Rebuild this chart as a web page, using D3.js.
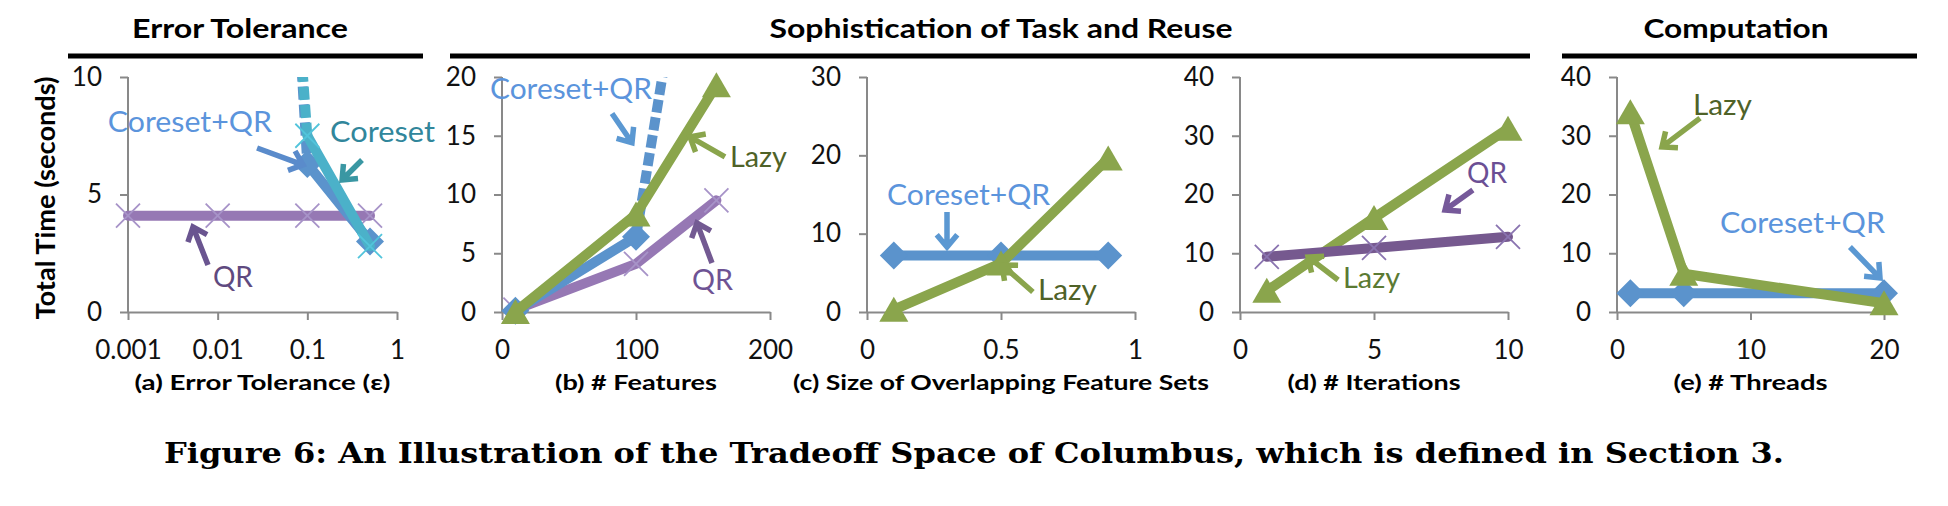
<!DOCTYPE html>
<html><head><meta charset="utf-8">
<script src="https://cdn.jsdelivr.net/npm/d3@7"></script>
<style>body{margin:0;background:#fff;} svg{display:block}</style>
</head><body><svg id="c" width="1948" height="506"></svg>
<script>
// ================= DATA =================
const headerTitles = ["Error Tolerance", "Sophistication of Task and Reuse", "Computation"];
const yAxisTitle = "Total Time (seconds)";
const captionText = "Figure 6: An Illustration of the Tradeoff Space of Columbus, which is defined in Section 3.";

// (a) Error tolerance (log x)
const aTitle = "(a) Error Tolerance (ε)";
const aXTicks = [0.001, 0.01, 0.1, 1];
const aXTickLabels = ["0.001", "0.01", "0.1", "1"];
const aYTicks = [0, 5, 10];
const aQR_x = [0.001, 0.01, 0.1, 0.5];
const aQR_y = [4.1, 4.1, 4.1, 4.1];
const aCoresetQR_x = [0.01, 0.1, 0.5];
const aCoresetQR_y = [70, 6.3, 3.0];
const aCoreset_x = [0.01, 0.1, 0.5];
const aCoreset_y = [60, 7.5, 2.8];

// (b) # Features
const bTitle = "(b) # Features";
const bXTicks = [0, 100, 200];
const bXTickLabels = ["0", "100", "200"];
const bYTicks = [0, 5, 10, 15, 20];
const b_x = [10, 100, 160];
const bQR_y = [0.2, 4.1, 9.5];
const bCoresetQR_y = [0.1, 6.4, 48];
const bLazy_y = [0, 8.3, 19.3];

// (c) Size of overlapping feature sets
const cTitle = "(c) Size of Overlapping Feature Sets";
const cXTicks = [0, 0.5, 1];
const cXTickLabels = ["0", "0.5", "1"];
const cYTicks = [0, 10, 20, 30];
const c_x = [0.1, 0.5, 0.9];
const cCoresetQR_y = [7.2, 7.2, 7.2];
const cLazy_y = [0.3, 6.2, 19.6];

// (d) # Iterations
const dTitle = "(d) # Iterations";
const dXTicks = [0, 5, 10];
const dXTickLabels = ["0", "5", "10"];
const dYTicks = [0, 10, 20, 30, 40];
const d_x = [1, 5, 10];
const dQR_y = [9.4, 10.9, 12.8];
const dLazy_y = [3.6, 16, 31.2];

// (e) # Threads
const eTitle = "(e) # Threads";
const eXTicks = [0, 10, 20];
const eXTickLabels = ["0", "10", "20"];
const eYTicks = [0, 10, 20, 30, 40];
const e_x = [1, 5, 20];
const eLazy_y = [34, 6.5, 1.5];
const eCoresetQR_y = [3.2, 3.2, 3.2];

// ================= STYLE / LAYOUT =================
const FONT = "Lato, 'Open Sans', 'DejaVu Sans', sans-serif";
const TOP = 77, BOT = 312, LW = 10;
const AX = "#898989";
const BLUE = "#5B93CC", GREEN = "#8AA54C", PURPLE = "#9678B4", PURPLE_D = "#76598F", CYAN = "#4BB1C9";
const BLUE_T = "#5B94DC", GREEN_T = "#4F6228";

const svg = d3.select("#c");

const panels = [
  { x0: 128, x1: 397, log: true, xDomain: [0.001, 1], yDomain: [0, 10],
    xTicks: aXTicks, xTickLabels: aXTickLabels, yTicks: aYTicks, title: aTitle, titleW: 256,
    series: [
      { x: aQR_x, y: aQR_y, color: PURPLE, marker: "x", mColor: "#A793C8", dashed: [] },
      { x: aCoresetQR_x, y: aCoresetQR_y, color: BLUE, marker: "diamond", dashed: [0] },
      { x: aCoreset_x, y: aCoreset_y, color: CYAN, marker: "x", mColor: "#52C4DB", dashed: [0] }
    ],
    notes: [
      { t: "Coreset+QR", x: 0.0049, y: 7.66, w: 164, c: BLUE_T },
      { t: "Coreset", x: 0.689, y: 7.23, w: 105, c: "#31869B" },
      { t: "QR", x: 0.0148, y: 1.06, w: 40, c: "#5F4A7F" }
    ],
    arrows: [
      { x1: 0.0275, y1: 6.98, x2: 0.0895, y2: 6.26, c: "#5A8BCB" },
      { x1: 0.407, y1: 6.47, x2: 0.244, y2: 5.62, c: "#3A97A3" },
      { x1: 0.0078, y1: 2.0, x2: 0.00531, y2: 3.62, c: "#6A5590" }
    ] },
  { x0: 502, x1: 770, xDomain: [0, 200], yDomain: [0, 20],
    xTicks: bXTicks, xTickLabels: bXTickLabels, yTicks: bYTicks, title: bTitle, titleW: 162,
    series: [
      { x: b_x, y: bQR_y, color: PURPLE, marker: "x", mColor: "#A793C8", dashed: [] },
      { x: b_x, y: bCoresetQR_y, color: BLUE, marker: "diamond", dashed: [1] },
      { x: b_x, y: bLazy_y, color: GREEN, marker: "tri", dashed: [] }
    ],
    notes: [
      { t: "Coreset+QR", x: 51.5, y: 18.1, w: 162, c: BLUE_T },
      { t: "Lazy", x: 191.4, y: 12.3, w: 57, c: GREEN_T },
      { t: "QR", x: 157.1, y: 1.87, w: 41, c: "#6E5394" }
    ],
    arrows: [
      { x1: 82.1, y1: 16.9, x2: 97.0, y2: 14.4, c: "#5B98D2" },
      { x1: 166.4, y1: 13.2, x2: 140.3, y2: 14.9, c: GREEN },
      { x1: 156.7, y1: 4.17, x2: 145.5, y2: 7.57, c: "#735A92" }
    ] },
  { x0: 867, x1: 1135, xDomain: [0, 1], yDomain: [0, 30],
    xTicks: cXTicks, xTickLabels: cXTickLabels, yTicks: cYTicks, title: cTitle, titleW: 416,
    series: [
      { x: c_x, y: cCoresetQR_y, color: BLUE, marker: "diamond", dashed: [] },
      { x: c_x, y: cLazy_y, color: GREEN, marker: "tri", dashed: [] }
    ],
    notes: [
      { t: "Coreset+QR", x: 0.379, y: 13.66, w: 163, c: BLUE_T },
      { t: "Lazy", x: 0.748, y: 1.53, w: 59, c: GREEN_T }
    ],
    arrows: [
      { x1: 0.2985, y1: 12.77, x2: 0.2985, y2: 8.3, c: "#5B98D2" },
      { x1: 0.619, y1: 2.55, x2: 0.504, y2: 6.0, c: GREEN }
    ] },
  { x0: 1240, x1: 1508, xDomain: [0, 10], yDomain: [0, 40],
    xTicks: dXTicks, xTickLabels: dXTickLabels, yTicks: dYTicks, title: dTitle, titleW: 173,
    series: [
      { x: d_x, y: dLazy_y, color: GREEN, marker: "tri", dashed: [] },
      { x: d_x, y: dQR_y, color: PURPLE_D, marker: "x", mColor: "#8A74B0", dashed: [] }
    ],
    notes: [
      { t: "QR", x: 9.22, y: 21.96, w: 40, c: "#6B4F94" },
      { t: "Lazy", x: 4.91, y: 4.09, w: 57, c: "#5B7A33" }
    ],
    arrows: [
      { x1: 8.69, y1: 20.77, x2: 7.65, y2: 17.36, c: "#76599A" },
      { x1: 3.66, y1: 5.45, x2: 2.54, y2: 9.36, c: GREEN }
    ] },
  { x0: 1617, x1: 1884, xDomain: [0, 20], yDomain: [0, 40],
    xTicks: eXTicks, xTickLabels: eXTickLabels, yTicks: eYTicks, title: eTitle, titleW: 154,
    series: [
      { x: e_x, y: eCoresetQR_y, color: BLUE, marker: "diamond", dashed: [] },
      { x: e_x, y: eLazy_y, color: GREEN, marker: "tri", dashed: [] }
    ],
    notes: [
      { t: "Lazy", x: 7.90, y: 33.5, w: 59, c: GREEN_T },
      { t: "Coreset+QR", x: 13.9, y: 13.45, w: 165, c: BLUE_T }
    ],
    arrows: [
      { x1: 6.22, y1: 33.0, x2: 3.37, y2: 28.1, c: GREEN },
      { x1: 17.45, y1: 11.06, x2: 19.7, y2: 5.79, c: "#5B98D2" }
    ] }
];

// headers
const headers = [
  { cx: 240, w: 216, l: 68, r: 423 },
  { cx: 1001, w: 463, l: 450, r: 1530 },
  { cx: 1736, w: 185, l: 1562, r: 1917 }
];
headers.forEach((h, i) => {
  svg.append("text").attr("x", h.cx).attr("y", 38).attr("text-anchor", "middle")
    .attr("font-family", FONT).attr("font-weight", 700).attr("font-size", 27)
    .attr("textLength", h.w).attr("lengthAdjust", "spacingAndGlyphs").attr("fill", "#000")
    .text(headerTitles[i]);
  svg.append("line").attr("x1", h.l).attr("x2", h.r).attr("y1", 56).attr("y2", 56)
    .attr("stroke", "#000").attr("stroke-width", 5);
});

// y axis title
svg.append("text").attr("transform", "translate(55,198) rotate(-90)").attr("text-anchor", "middle")
  .attr("font-family", FONT).attr("font-weight", 700).attr("font-size", 26)
  .attr("textLength", 243).attr("lengthAdjust", "spacingAndGlyphs").text(yAxisTitle);

function arrowPath(x1, y1, x2, y2) {
  const L = 16, ang = 40 * Math.PI / 180;
  const a = Math.atan2(y2 - y1, x2 - x1);
  const p1 = [x2 - L * Math.cos(a - ang), y2 - L * Math.sin(a - ang)];
  const p2 = [x2 - L * Math.cos(a + ang), y2 - L * Math.sin(a + ang)];
  const sx = x2 - 3 * Math.cos(a), sy = y2 - 3 * Math.sin(a);
  return `M${x1},${y1}L${sx},${sy}M${p1[0]},${p1[1]}L${x2},${y2}L${p2[0]},${p2[1]}`;
}

panels.forEach((p, pi) => {
  const xs = (p.log ? d3.scaleLog() : d3.scaleLinear()).domain(p.xDomain).range([p.x0, p.x1]);
  const ys = d3.scaleLinear().domain(p.yDomain).range([BOT, TOP]);
  const g = svg.append("g");

  // axes
  const gx = g.append("g").attr("transform", `translate(0,${BOT})`)
    .call(d3.axisBottom(xs).tickValues(p.xTicks).tickFormat((d, i) => p.xTickLabels[i])
      .tickSize(8).tickSizeOuter(0).tickPadding(21));
  const gy = g.append("g").attr("transform", `translate(${p.x0},0)`)
    .call(d3.axisLeft(ys).tickValues(p.yTicks).tickFormat(d3.format("d"))
      .tickSize(8).tickSizeOuter(0).tickPadding(18));
  [gx, gy].forEach(a => {
    a.select(".domain").attr("stroke", AX).attr("stroke-width", 2);
    a.selectAll(".tick line").attr("stroke", AX).attr("stroke-width", 2);
    a.selectAll(".tick text").attr("font-family", FONT).attr("font-size", 26).attr("fill", "#111");
  });
  gy.select(".domain").attr("d", `M0,${BOT + 1}V${TOP}`);

  // x title
  g.append("text").attr("x", (p.x0 + p.x1) / 2).attr("y", 390).attr("text-anchor", "middle")
    .attr("font-family", FONT).attr("font-weight", 700).attr("font-size", 21)
    .attr("textLength", p.titleW).attr("lengthAdjust", "spacingAndGlyphs").text(p.title);

  // clip
  const cid = "clip" + pi;
  svg.append("clipPath").attr("id", cid).append("rect")
    .attr("x", p.x0 - 40).attr("y", TOP).attr("width", p.x1 - p.x0 + 80).attr("height", 320);

  const line = d3.line();
  p.series.forEach(s => {
    const pts = s.x.map((x, i) => [xs(x), ys(s.y[i])]);
    const lg = g.append("g").attr("clip-path", `url(#${cid})`);
    let run = [pts[0]];
    const runs = [];
    for (let i = 0; i < pts.length - 1; i++) {
      if (s.dashed.includes(i)) {
        if (run.length > 1) runs.push(run);
        lg.append("path").attr("d", line([pts[i], pts[i + 1]])).attr("fill", "none")
          .attr("stroke", s.color).attr("stroke-width", LW).attr("stroke-dasharray", "13,5");
        run = [pts[i + 1]];
      } else run.push(pts[i + 1]);
    }
    if (run.length > 1) runs.push(run);
    runs.forEach(r => lg.append("path").attr("d", line(r)).attr("fill", "none")
      .attr("stroke", s.color).attr("stroke-width", LW)
      .attr("stroke-linecap", "round").attr("stroke-linejoin", "round"));

    const mg = g.append("g");
    pts.forEach((pt, i) => {
      if (s.y[i] > p.yDomain[1]) return;
      const [cx, cy] = pt;
      if (s.marker === "diamond") {
        mg.append("path").attr("d", `M${cx},${cy - 14}L${cx + 14},${cy}L${cx},${cy + 14}L${cx - 14},${cy}Z`)
          .attr("fill", s.color);
      } else if (s.marker === "tri") {
        mg.append("path").attr("d", `M${cx},${cy - 13}L${cx + 14.5},${cy + 12}L${cx - 14.5},${cy + 12}Z`)
          .attr("fill", s.color);
      } else {
        mg.append("path").attr("d", `M${cx - 12},${cy - 12}L${cx + 12},${cy + 12}M${cx - 12},${cy + 12}L${cx + 12},${cy - 12}`)
          .attr("stroke", s.mColor).attr("stroke-width", 1.8).attr("fill", "none");
      }
    });
  });

  // annotations
  p.notes.forEach(n => {
    g.append("text").attr("x", xs(n.x)).attr("y", ys(n.y)).attr("text-anchor", "middle")
      .attr("font-family", FONT).attr("font-size", 28).attr("fill", n.c)
      .attr("textLength", n.w).attr("lengthAdjust", "spacingAndGlyphs").text(n.t);
  });
  p.arrows.forEach(a => {
    g.append("path").attr("d", arrowPath(xs(a.x1), ys(a.y1), xs(a.x2), ys(a.y2)))
      .attr("fill", "none").attr("stroke", a.c).attr("stroke-width", 5.5)
      .attr("stroke-linejoin", "miter").attr("stroke-linecap", "butt");
  });
});

// caption
svg.append("text").attr("x", 974).attr("y", 463).attr("text-anchor", "middle")
  .attr("font-family", "'DejaVu Serif', 'Liberation Serif', serif").attr("font-weight", 700)
  .attr("font-size", 27).attr("textLength", 1620).attr("lengthAdjust", "spacingAndGlyphs")
  .attr("fill", "#000").text(captionText);
</script></body></html>
